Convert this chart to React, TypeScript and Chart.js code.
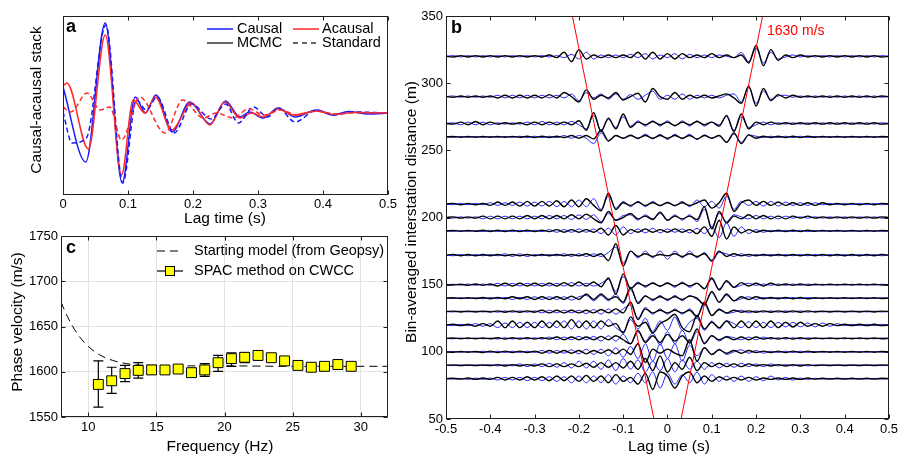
import React, { useEffect, useRef } from "react";
import { Chart, registerables } from "chart.js";

Chart.register(...registerables);

const FONT = '"Liberation Sans", Arial, Helvetica, sans-serif';

// ---------------- Panel a: causal / acausal stacks (extrema of each waveform) ----------------
const causalMcmcTimes = [0, 0.035, 0.065, 0.091, 0.111, 0.127, 0.143, 0.168, 0.195, 0.226, 0.25, 0.272, 0.287, 0.308, 0.331, 0.357, 0.39, 0.416, 0.439, 0.47, 0.5];
const causalMcmcAmps = [26, -49, 90, -70, 16, 0, 18, -19, 11, -11, 12, -4, 1, -5, 5, -4, 3, -2, 1.5, -1, 0];
const acausalMcmcTimes = [0, 0.006, 0.039, 0.065, 0.09, 0.108, 0.126, 0.142, 0.167, 0.198, 0.226, 0.249, 0.272, 0.29, 0.308, 0.331, 0.354, 0.39, 0.416, 0.45, 0.5];
const acausalMcmcAmps = [27, 30, -36, 78, -62, 13, 0, 16, -17, 10, -12, 11, -5, 0, -4, 4, -2, 2, -1.5, 0.5, 0];
const causalStdTimes = [0, 0.014, 0.036, 0.066, 0.092, 0.113, 0.128, 0.145, 0.171, 0.198, 0.228, 0.25, 0.27, 0.293, 0.315, 0.331, 0.357, 0.39, 0.416, 0.445, 0.5];
const causalStdAmps = [1, -30, -25, 88, -70, 13, 3, 16, -20, 9, -6, 9, -10, 6, -4, 5, -9, 3, -2, 1, 0];
const acausalStdTimes = [0, 0.012, 0.037, 0.057, 0.072, 0.09, 0.118, 0.157, 0.184, 0.216, 0.236, 0.262, 0.285, 0.31, 0.335, 0.36, 0.39, 0.42, 0.45, 0.5];
const acausalStdAmps = [6, 1, 20, 3, 6, -27, 16, -20, 13, -5, 0, -5, 4, -2, 3, -2, 2, -1, 0.5, 0];
const stackTicks = [0, 0.1, 0.2, 0.3, 0.4, 0.5];
const stackTickLabels = ["0", "0.1", "0.2", "0.3", "0.4", "0.5"];

// ---------------- Panel b: bin-averaged cross-correlations ----------------
const traceDistances = [320, 290, 270, 260, 210, 200, 190, 172, 150, 140, 130, 120, 110, 100, 90, 80];
const lagStart = -0.5;
const lagStep = 1 / 60;

const black320 = [0, -0.5, 0.5, -0.5, 0.5, -0.5, 0.5, -0.5, 0.5, -0.5, 0.5, -0.5, 0.5, -0.5, 1, -1, 3, -4, 5, -2, 1, -1, 1, -1, 1, -1, 3, -2, 3, -2, 2, -2, 2, -1, 1, -1, 2, -1, 1, -1, 1, -5, 8, -7, 5, -3, 1, -1, 1, -0.5, 0.5, -0.5, 0.5, -0.5, 0.5, -0.5, 0.5, -0.5, 0.5, -0.5, 0];
const black290 = [0, -0.5, 0.5, -0.5, 0.5, -0.5, 0.5, -1, 1, -1, 1, -1, 1, -1, 1.5, -1, 3, 0, -4, 5, -2, 1, -1, 3, -2.5, 0, 2.5, -4, 6, 0, -2, 3, -2, 1, -1, 1, -1, 0.5, 2, -1, -5, 8, -7, 6, -3, 1.5, -1, 1, -0.5, 0.5, -0.5, 0.5, -0.5, 0.5, -0.5, 0.5, -0.5, 0.5, -0.5, 0.5, 0];
const black270 = [0, -0.5, 1, -1, 1.5, -1, 1, -0.5, 0.5, -0.5, 0.5, -1, 1, -1, 1, -1, 1, -1, 2, -5, 8, -6, 4, -4, 7, -3, 1, -1, 1.5, -1, 1, -1.5, 1, -1, 1.5, -1, 1, -2, 6, -6, 7, -4, 1, -1, 1, -0.5, 0.5, -0.5, 0.5, -0.5, 0.5, -0.5, 0.5, -0.5, 0.5, -0.5, 0.5, -0.5, 0.5, -0.5, 0];
const black260 = [0, 0.3, -0.3, 0.3, -0.3, 0.3, -0.3, 0.3, -0.3, 0.3, -0.3, 0.5, -0.5, 0.5, -0.5, 0.5, -0.5, 1, -1, 1, -1.5, 5, -3, 1, -1, 1, -1, 1, -1, 1, -1, 1, -1, 1, -1.5, 1, -1, 1, -4, 3, -5, 1.5, -1, 0.5, -0.5, 0.5, -0.5, 0.5, -0.5, 0.5, -0.3, 0.3, -0.3, 0.3, -0.3, 0.3, -0.3, 0.3, -0.3, 0.3, 0];
const black210 = [0, 0.5, -0.5, 0.5, -0.5, 0.5, -1, 1.5, -1, 1.5, -1.5, 2, -1.5, 2, -1.5, 2.5, -2, 3, -2, 4, -1, -5, 8, -4, 1, -1, 1.5, -1, 1, -1, 1, -1, 1, -1, 1, 3, -3, 1, 8, -5.5, 1, 3, -1, 2, -1, 1.5, -1, 1, -1, 1, -1, 1, -0.5, 0.5, -0.5, 0.5, -0.5, 0.5, -0.5, 0.5, 0];
const black200 = [0, 0.5, -0.5, 0.5, -0.5, 1, -1, 1, -1, 1, -1, 1.5, -1, 1.5, -1, 1.5, -1, 2, -1, 2.5, -1, -4, 4.5, -2, 0, 3, -1, 1, -1.5, 4, -2, 1, -1, 1, -1.5, 8, -8.5, 4.5, -4, 1, -1, 2, -1, 1.5, -1, 1, -1, 1, -0.5, 1, -0.5, 0.5, -0.5, 0.5, -0.5, 0.5, -0.5, 0.5, -0.5, 0.5, 0];
const black190 = [0, 0.3, -0.3, 0.3, -0.3, 0.5, -0.5, 0.5, -0.5, 0.5, -0.5, 0.5, -0.5, 0.5, -0.5, 1, -1, 1, -1, 1, -1, 2, -3, 4, -3, 1, -1, 1.5, -1, 1, -1, 1.5, -1, 1, -2, 3, -4, 8, -6, 3, -1.5, 1, -1, 0.5, -0.5, 0.5, -0.5, 0.5, -0.5, 0.5, -0.3, 0.3, -0.3, 0.3, -0.3, 0.3, -0.3, 0.3, -0.3, 0.3, 0];
const black172 = [0, 0.5, -0.5, 0.5, -0.5, 0.5, -0.5, 0.5, -0.5, 0.5, -0.5, 0.5, -0.5, 0.5, -0.5, 0.5, -0.5, 0.5, -0.5, 1, -1, 1, -4, 8.5, -8, 3, -1, 1, -1, 0.5, -0.5, 1, -1, 1, -1, 1, -4, 3, -1, 1, -0.5, 0.5, -0.5, 0.5, -0.5, 0.5, -0.5, 0.5, -0.5, 0.5, -0.5, 0.5, -0.5, 0.5, -0.5, 0.5, -0.5, 0.5, -0.5, 0.5, 0];
const black150 = [0, -0.3, 0.3, -0.5, 0.5, -0.5, 0.5, -1, 1, -1, 1, -1, 1, -1, 1, -1, 1.5, -1, 2, -1, 2, -1.5, 5, -7, 8, -3, 1, -1, 1, -1, 1, -1, 1, -1, 1, -3, 5, -4, 3, -2, 1.5, -1, 1, -1, 1, -0.5, 0.5, -0.5, 0.5, -0.5, 0.3, -0.3, 0.3, -0.3, 0.3, -0.3, 0.3, -0.3, 0.3, -0.3, 0];
const black140 = [0, 0.3, -0.3, 0.3, -0.3, 0.5, -0.5, 0.5, -0.5, 1, -0.5, 1, -1, 1, -1, 1, -1, 1.5, -1, 3, -1, 3, -1, 1, -3, 8, -4, 1.5, -1, 1, -1, 1, -1, 1.5, 0, -5, 5, -3, 3, -2, 1, -1, 1, -0.5, 0.5, -0.5, 0.5, -0.5, 0.5, -0.5, 0.3, -0.3, 0.3, -0.3, 0.3, -0.3, 0.3, -0.3, 0.3, -0.3, 0];
const black130 = [0, 0.3, -0.3, 0.3, -0.3, 0.3, -0.3, 0.5, -0.5, 0.5, -0.5, 0.5, -0.5, 1, -1, 1, -1, 1, -1, 1, -1, 1.5, -1, 2, -1, 7, -6, 2, -1, 1, -1, 1, -1, 1, -4, 7, -3, 1.5, -1, 1, -0.5, 0.5, -0.5, 0.5, -0.5, 0.5, -0.5, 0.5, -0.5, 0.5, -0.3, 0.3, -0.3, 0.3, -0.3, 0.3, -0.3, 0.3, -0.3, 0.3, 0];
const black120 = [0, 0.5, -0.5, 0.5, -1, 1, -1, 3, -2, 3, -2, 2, -2, 3, -2, 3, -2, 4, -2, 3, -2, 3, -1, 1, -6, 6, -1, 2, -6, 1, 4, 8, -2, -5, 7, -3, 2, -2, 3, -2, 3, -2, 3, -2, 3, -2, 2, -1.5, 2, -1, 1, -1, 1, -0.5, 0.5, -0.5, 0.5, -0.5, 0.5, -0.5, 0];
const black110 = [0, 0.3, -0.3, 0.3, -0.3, 0.3, -0.3, 0.5, -0.5, 0.5, -0.5, 0.5, -0.5, 0.5, -0.5, 1, -1, 1, -1, 1, -1, 1.5, -1, 2, -1, -4, 6, -3, 2, -3, 3, -2, 2, -3, 7, -4, 2, -1, 1, -1, 1, -1, 1, -0.5, 0.5, -0.5, 0.5, -0.5, 0.5, -0.5, 0.3, -0.3, 0.3, -0.3, 0.3, -0.3, 0.3, -0.3, 0.3, -0.3, 0];
const black100 = [0, -0.3, 0.3, -0.3, 0.3, -0.5, 0.5, -0.5, 0.5, -0.5, 0.5, -0.5, 0.5, -1, 1, -1, 1, -1, 1, -1.5, 1, -1, 1.5, -1.5, 2, -2, 6, -8, 2, -1, 2, -1, -3, 9, -7, 3, -2, 1.5, -1, 1, -1, 1, -0.5, 0.5, -0.5, 0.5, -0.5, 0.5, -0.5, 0.5, -0.3, 0.3, -0.3, 0.3, -0.3, 0.3, -0.3, 0.3, -0.3, 0.3, 0];
const black90 = [0, 0.3, -0.3, 0.3, -0.3, 0.3, -0.3, 0.5, -0.5, 0.5, -0.5, 0.5, -0.5, 1, -1, 1, -1, 1, -1, 1.5, -1.5, 2, -1.5, 2, -2, 3, -3, 5, -4, 7, -5, 2, -3, 6, -4, 2, -1, 1.5, -1, 1, -1, 1, -0.5, 0.5, -0.5, 0.5, -0.5, 0.5, -0.5, 0.5, -0.3, 0.3, -0.3, 0.3, -0.3, 0.3, -0.3, 0.3, -0.3, 0.3, 0];
const black80 = [0, 0.3, -0.3, 0.5, -0.5, 0.5, -0.5, 1, -1, 1, -1, 1.5, -1, 1.5, -1.5, 2, -1.5, 2, -2, 2.5, -2, 2, -3, 3, -2, 1, -4, 4, -8, 5, 2, -7, 2, 5, -3, 2, -2, 1.5, -1, 1, -1, 1, -1, 0.5, -0.5, 0.5, -0.5, 0.5, -0.5, 0.5, -0.3, 0.3, -0.3, 0.3, -0.3, 0.3, -0.3, 0.3, -0.3, 0.3, 0];

const blue320 = [0, 0.5, -0.5, 0.5, -0.5, 0.5, -0.5, 0.5, -0.5, 0.5, -0.5, 0.5, -0.5, 0.5, -0.5, 0.5, -1, 1.5, -2, 3, -2, 1, -1, 1, -1, 1.5, -1, 2, -2, 1, -1, 2, -2, 1.5, -1, 1, -1, 1, 0, -1, 3, -4, 6, -5, 3, -2, -0.5, 1, -0.5, 0.5, -0.5, 0.5, -0.5, 0.5, -0.5, 0.5, -0.5, 0.5, -0.5, 0.5, 0];
const blue290 = [0, 0.5, -0.5, 0.5, -0.5, 0.5, -0.5, 1, -1, 1, -1, 1, -1, 1, -1, 1, -1, 2, -3, 3, -1, 2, -2, 2, -2, 1.5, -2, 1, 4, -2, 1, -2, 2, -2, 1, -1, 1, -1, 1, 2, -4, 7, -5, 4, -2, 0.5, 1, -0.5, 0.5, -0.5, 0.5, -0.5, 0.5, -0.5, 0.5, -0.5, 0.5, -0.5, 0.5, -0.5, 0];
const blue270 = [0, 0.5, -1, 1, -1, 1, -1, 0.5, -0.5, 0.5, -0.5, 1, -1, 1.5, -1, 1, -1, 1.5, -1, -4, 6, -5, 3, -3, 5, -2, 2, -2, 2, -2, 2, -2, 2, -2, 2, -2, 1, -1, 5, -5, 5, -3, -1, 1, -1, 0.5, -0.5, 0.5, -0.5, 0.5, -0.5, 0.5, -0.5, 0.5, -0.5, 0.5, -0.5, 0.5, -0.5, 0.5, 0];
const blue260 = [0, -0.3, 0.3, -0.3, 0.3, -0.3, 0.3, -0.3, 0.3, -0.3, 0.5, -0.5, 0.5, -0.5, 0.5, -0.5, 1, -1, 1, -1, -5, 3, -3, 1, -1, 1.5, -1.5, 2, -1.5, 2, -2, 2, -1.5, 2, -2, 1.5, -1, 1, -4, 2, -4, 1.5, 0.5, -0.5, 0.5, -0.5, 0.5, -0.5, 0.5, -0.5, 0.3, -0.3, 0.3, -0.3, 0.3, -0.3, 0.3, -0.3, 0.3, -0.3, 0];
const blue210 = [0, -0.5, 0.5, -0.5, 0.5, -0.5, 1, -1, 1, -1, 1.5, -1.5, 1.5, -1.5, 2, -2, 2, -2, 3, -2, 4, -4, 6, -3, 2, -2, 2, -2, 2, -1.5, 1.5, -1.5, 2, -2, 3, -2, 2, -3, 6, -4, 2, -1, 2, -1.5, 2, -1.5, 1.5, -1, 1, -1, 1, -0.5, 0.5, -0.5, 0.5, -0.5, 0.5, -0.5, 0.5, -0.5, 0];
const blue200 = [0, -0.5, 0.5, -0.5, 0.5, -1, 1, -1, 1, -1, 1, -1, 1, -1, 1.5, -1, 1.5, -1.5, 2, -1.5, 2, -3, 3, -2, 1.5, 2, -2, 2, -1, 3, -2, 2, -2, 2, -3, 6, -7, 3, -3, 2, 0.5, -1, 1.5, -1, 1, -1, 1, -0.5, 0.5, -0.5, 0.5, -0.5, 0.5, -0.5, 0.5, -0.5, 0.5, -0.5, 0.5, -0.5, 0];
const blue190 = [0, -0.3, 0.3, -0.3, 0.3, -0.5, 0.5, -0.5, 0.5, -0.5, 0.5, -0.5, 0.5, -0.5, 1, -1, 1, -1, 1.5, -1, 1.5, -2, 2, -3, 3, -2, 1.5, -1.5, 2, -1.5, 1.5, -1, 1.5, -1.5, 2, -2, 3, -5, 6, -4, 3, -2, 1, -1, 0.5, -0.5, 0.5, -0.5, 0.5, -0.5, 0.3, -0.3, 0.3, -0.3, 0.3, -0.3, 0.3, -0.3, 0.3, -0.3, 0];
const blue172 = [0, -0.5, 0.5, -0.5, 0.5, -0.5, 0.5, -0.5, 1, -1, 1, -1, 0.5, -0.5, 0.5, -0.5, 1, -1, 1, -1, 1, -1, 2, 6, -6, 3, -2, 3, -2, 3, -3, 3, -2, 3, -2, 2, -5, 2, 1, -1, 1, -1, 0.5, -0.5, 0.5, -0.5, 0.5, -0.5, 0.5, -0.5, 0.5, -0.5, 0.5, -0.5, 0.5, -0.5, 0.5, -0.5, 0.5, -0.5, 0];
const blue150 = [0, 0.3, -0.3, 0.5, -0.5, 0.5, -0.5, 1, -1, 1, -1, 1, -1, 1, -1, 1, -1, 1.5, -1, 1, -1, 1, 4, -5, 6, -3, 2, -2, 1.5, -1.5, 1.5, -2, 2, -2, 1, -3, 4, -3, 2, -2, -0.5, 1, -0.5, 0.5, -0.5, 0.5, -0.5, 0.5, -0.5, 0.5, -0.3, 0.3, -0.3, 0.3, -0.3, 0.3, -0.3, 0.3, -0.3, 0.3, 0];
const blue140 = [0, -0.3, 0.3, -0.3, 0.3, -0.5, 0.5, -0.5, 0.5, -1, 0.5, -1, 1, -1, 1, -1, 1, -1.5, 1, 2, -2, 2, -2, 3, -4, 6, -3, 2, -2, 2, -2, 2, -2, 2, -1, -4, 4, -3, 2, -2, -0.5, 1, -1, 0.5, -0.5, 0.5, -0.5, 0.5, -0.5, 0.5, -0.3, 0.3, -0.3, 0.3, -0.3, 0.3, -0.3, 0.3, -0.3, 0.3, 0];
const blue130 = [0, -0.3, 0.3, -0.3, 0.3, -0.3, 0.3, -0.5, 0.5, -0.5, 0.5, -0.5, 0.5, -1, 1, -1, 1, -1, 1, -1.5, 1.5, -2, 2, -2, 2, 5, -5, 3, -2, 2, -2, 2, -2, 2, -3, 5, -3, 2, -1.5, -0.5, 1, -1, 0.5, -0.5, 0.5, -0.5, 0.5, -0.5, 0.5, -0.5, 0.3, -0.3, 0.3, -0.3, 0.3, -0.3, 0.3, -0.3, 0.3, -0.3, 0];
const blue120 = [0, -0.5, 0.5, -0.5, 1, -1, 1, -2, 1.5, -2, 2, -2, 2, -2, 2, -2, 3, -3, 3, -3, 3, -3, 4, -2, -5, 4, -3, 5, -5, 3, -4, 6, -4, 2, 5, -4, 3, -3, 3, 1, -2, 2.5, -2, 2, -2, 2, -1.5, 2, -1.5, 1.5, -1.5, 1.5, -1, 1, -0.5, 0.5, -0.5, 0.5, -0.5, 0.5, 0];
const blue110 = [0, -0.3, 0.3, -0.3, 0.3, -0.3, 0.3, -0.5, 0.5, -0.5, 0.5, -0.5, 0.5, -0.5, 1, -1, 1, -1, 1.5, -1, 1.5, -2, 2, -2, 3, -4, 5, -2, 4, -5, 5, -4, 6, -4, 5, -3, 2, -2, 1.5, 0.5, -1, 1, -1, 1, -0.5, 0.5, -0.5, 0.5, -0.5, 0.5, -0.3, 0.3, -0.3, 0.3, -0.3, 0.3, -0.3, 0.3, -0.3, 0.3, 0];
const blue100 = [0, 0.3, -0.3, 0.3, -0.3, 0.5, -0.5, 0.5, -0.5, 0.5, -0.5, 0.5, -0.5, 1, -1, 1, -1, 1.5, -1.5, 2, -2, 2, -3, 3, -4, 4, -5, 6, -7, 6, -5, 6, -7, 5, -3, 3, -2, 2, -2, 0, 1.5, -1, 1, -1, 0.5, -0.5, 0.5, -0.5, 0.5, -0.5, 0.3, -0.3, 0.3, -0.3, 0.3, -0.3, 0.3, -0.3, 0.3, -0.3, 0];
const blue90 = [0, -0.3, 0.3, -0.3, 0.3, -0.3, 0.5, -0.5, 0.5, -0.5, 1, -1, 1, -1, 1.5, -1.5, 2, -2, 3, -2, 3, -3, 4, -4, 5, -3, 4, -5, 3, -4, 5, -5, 4, -3, 3, -3, 2, -2, 1.5, -1.5, 1.5, -1, 1, -1, 1, -0.5, 0.5, -0.5, 0.5, -0.5, 0.3, -0.3, 0.3, -0.3, 0.3, -0.3, 0.3, -0.3, 0.3, -0.3, 0];
const blue80 = [0, -0.3, 0.3, -0.5, 0.5, -0.5, 0.5, -1, 1, -1, 1, -1.5, 1, -1.5, 1.5, -2, 1.5, -3, 2, -3, 2, -3, 3, -4, 2, -3, 4, -3, 5, -7, 4, -4, 3, -3, 5, -4, 3, -2, 2, -2, 2, -2, 1.5, -1.5, 2, -1, 1, -1, 0.5, -0.5, 0.3, -0.3, 0.3, -0.3, 0.3, -0.3, 0.3, -0.3, 0.3, -0.3, 0];

const blackTraces = [black320, black290, black270, black260, black210, black200, black190, black172, black150, black140, black130, black120, black110, black100, black90, black80];
const blueTraces = [blue320, blue290, blue270, blue260, blue210, blue200, blue190, blue172, blue150, blue140, blue130, blue120, blue110, blue100, blue90, blue80];

const moveoutVelocity = 1630; // m/s
const moveoutDistances = [350, 50];
const lagTicks = [-0.5, -0.4, -0.3, -0.2, -0.1, 0, 0.1, 0.2, 0.3, 0.4, 0.5];
const lagTickLabels = ["-0.5", "-0.4", "-0.3", "-0.2", "-0.1", "0", "0.1", "0.2", "0.3", "0.4", "0.5"];
const distanceTicks = [50, 100, 150, 200, 250, 300, 350];

// ---------------- Panel c: phase velocity ----------------
const spacFreqs = [10.74, 11.72, 12.7, 13.67, 14.65, 15.63, 16.6, 17.58, 18.55, 19.53, 20.51, 21.48, 22.46, 23.44, 24.41, 25.39, 26.37, 27.34, 28.32, 29.3];
const spacVelocity = [1586, 1590, 1598, 1601.5, 1602, 1602, 1603, 1599, 1602, 1610, 1614.5, 1616, 1618, 1615.5, 1612, 1607, 1605, 1606, 1608, 1606];
const spacLow = [1561, 1576, 1589, 1593, 1597, 1598, 1600, 1596, 1595, 1600.5, 1606, 1610, 1613, 1612, 1608, 1604, 1602, 1603, 1605, 1603];
const spacHigh = [1612, 1605, 1607, 1610, 1607, 1606, 1606, 1602, 1609, 1618, 1621, 1621, 1623, 1619, 1616, 1610, 1608, 1609, 1611, 1609];
const modelFreqs = [8, 8.5, 9.2, 10, 10.8, 11.8, 12.8, 14.2, 17, 20, 25, 32];
const modelVelocity = [1677, 1660, 1642, 1628, 1619, 1612.5, 1609, 1607, 1606.5, 1606.5, 1606, 1606];
const freqTicks = [10, 15, 20, 25, 30];
const velocityTicks = [1550, 1600, 1650, 1700, 1750];

// ---------------- helpers ----------------
const xy = (xs: number[], ys: number[]) => xs.map((x, i) => ({ x, y: ys[i] }));

type TextSpec = { text: string; x: number; y: number; font: string; color?: string; align?: CanvasTextAlign; baseline?: CanvasTextBaseline; rotate?: number };
type LegendSpec = { x1: number; x2: number; y: number; color: string; dash?: number[]; width?: number; marker?: boolean };

function makeDecor(spec: { xTicks: boolean; yTicks: boolean; texts: TextSpec[]; legend: LegendSpec[] }) {
  return {
    id: "decor",
    afterDraw(chart: any) {
      const ctx: CanvasRenderingContext2D = chart.ctx;
      const a = chart.chartArea;
      const L = Math.round(a.left) + 0.5;
      const R = Math.round(a.right) - 0.5;
      const T = Math.round(a.top) + 0.5;
      const B = Math.round(a.bottom) - 0.5;
      ctx.save();
      ctx.setLineDash([]);
      ctx.strokeStyle = "#1e1e1e";
      ctx.lineWidth = 1;
      ctx.strokeRect(L, T, R - L, B - T);
      ctx.beginPath();
      if (spec.xTicks) {
        const xs = chart.scales.x;
        for (const t of xs.ticks) {
          const px = Math.round(xs.getPixelForValue(t.value)) + 0.5;
          ctx.moveTo(px, B); ctx.lineTo(px, B - 4);
          ctx.moveTo(px, T); ctx.lineTo(px, T + 4);
        }
      }
      if (spec.yTicks) {
        const ys = chart.scales.y;
        for (const t of ys.ticks) {
          const py = Math.round(ys.getPixelForValue(t.value)) + 0.5;
          ctx.moveTo(L, py); ctx.lineTo(L + 4, py);
          ctx.moveTo(R, py); ctx.lineTo(R - 4, py);
        }
      }
      ctx.stroke();
      for (const l of spec.legend) {
        ctx.save();
        ctx.strokeStyle = l.color;
        ctx.lineWidth = l.width ?? 1.5;
        ctx.setLineDash(l.dash ?? []);
        ctx.beginPath();
        ctx.moveTo(l.x1, l.y); ctx.lineTo(l.x2, l.y);
        ctx.stroke();
        if (l.marker) {
          ctx.setLineDash([]);
          ctx.fillStyle = "#ffff00";
          ctx.strokeStyle = "#000";
          ctx.lineWidth = 1;
          const c = (l.x1 + l.x2) / 2;
          ctx.fillRect(c - 5, l.y - 5, 10, 10);
          ctx.strokeRect(c - 5 + 0.5, l.y - 5 + 0.5, 9, 9);
        }
        ctx.restore();
      }
      for (const t of spec.texts) {
        ctx.save();
        ctx.font = t.font;
        ctx.fillStyle = t.color ?? "#000";
        ctx.textAlign = t.align ?? "center";
        ctx.textBaseline = t.baseline ?? "middle";
        ctx.translate(t.x, t.y);
        if (t.rotate) ctx.rotate(t.rotate);
        ctx.fillText(t.text, 0, 0);
        ctx.restore();
      }
      ctx.restore();
    },
  };
}

const tickFont = { family: FONT, size: 13 };
const titleFont = `15.5px ${FONT}`;
const legendFont = `14.5px ${FONT}`;
const panelFont = `bold 18px ${FONT}`;

function linearAxis(opts: { min: number; max: number; ticks: number[]; labels?: string[]; size: number; horizontal: boolean; showLabels: boolean; grid?: boolean; padding: number }) {
  return {
    type: "linear",
    min: opts.min,
    max: opts.max,
    afterBuildTicks: (s: any) => {
      s.ticks = opts.ticks.map((v) => ({ value: v }));
    },
    afterFit: (s: any) => {
      if (opts.horizontal) s.height = opts.size;
      else s.width = opts.size;
    },
    ticks: {
      display: opts.showLabels,
      font: tickFont,
      color: "#000",
      padding: opts.padding,
      autoSkip: false,
      maxRotation: 0,
      callback: (_v: any, i: number) => (opts.labels ? opts.labels[i] : String(opts.ticks[i])),
    },
    grid: opts.grid
      ? { display: true, color: "#e2e2e2", lineWidth: 1, drawTicks: false }
      : { display: false, drawTicks: false },
    border: { display: false },
  };
}

const baseOptions = {
  animation: false,
  responsive: false,
  maintainAspectRatio: false,
  devicePixelRatio: 1,
  events: [],
  plugins: { legend: { display: false }, tooltip: { enabled: false } },
};

function configA(): any {
  const blue = "#1a1aff";
  const red = "#ff2a2a";
  const ds = (times: number[], amps: number[], color: string, dash: number[]) => ({
    data: xy(times, amps),
    borderColor: color,
    borderWidth: 1.5,
    borderDash: dash,
    pointRadius: 0,
    cubicInterpolationMode: "monotone",
    fill: false,
  });
  return {
    type: "line",
    data: {
      datasets: [
        ds(acausalStdTimes, acausalStdAmps, red, [5, 3]),
        ds(causalStdTimes, causalStdAmps, blue, [5, 3]),
        ds(acausalMcmcTimes, acausalMcmcAmps, red, []),
        ds(causalMcmcTimes, causalMcmcAmps, blue, []),
      ],
    },
    options: {
      ...baseOptions,
      layout: { padding: { left: 0, right: 12, top: 16, bottom: 0 } },
      scales: {
        x: linearAxis({ min: 0, max: 0.5, ticks: stackTicks, labels: stackTickLabels, size: 35, horizontal: true, showLabels: true, padding: 2 }),
        y: linearAxis({ min: -82, max: 97, ticks: [], size: 63, horizontal: false, showLabels: false, padding: 3 }),
      },
    },
    plugins: [
      makeDecor({
        xTicks: true,
        yTicks: false,
        texts: [
          { text: "Lag time (s)", x: 225, y: 219, font: titleFont },
          { text: "Causal-acausal stack", x: 37, y: 100, font: titleFont, rotate: -Math.PI / 2 },
          { text: "a", x: 66, y: 32, font: panelFont, align: "left", baseline: "alphabetic" },
          { text: "Causal", x: 237, y: 29, font: legendFont, align: "left" },
          { text: "Acausal", x: 322, y: 29, font: legendFont, align: "left" },
          { text: "MCMC", x: 237, y: 43, font: legendFont, align: "left" },
          { text: "Standard", x: 322, y: 43, font: legendFont, align: "left" },
        ],
        legend: [
          { x1: 207, x2: 233, y: 29, color: blue },
          { x1: 293, x2: 319, y: 29, color: red },
          { x1: 207, x2: 233, y: 43, color: "#333" },
          { x1: 293, x2: 319, y: 43, color: "#333", dash: [5, 4] },
        ],
      }),
    ],
  };
}

function configB(): any {
  const times = blackTraces[0].map((_, i) => lagStart + i * lagStep);
  const datasets: any[] = [];
  traceDistances.forEach((d, k) => {
    datasets.push({
      data: times.map((t, i) => ({ x: t, y: d + blueTraces[k][i] })),
      borderColor: "#2424ff",
      borderWidth: 1,
      pointRadius: 0,
      cubicInterpolationMode: "monotone",
      order: 3,
    });
    datasets.push({
      data: times.map((t, i) => ({ x: t, y: d + blackTraces[k][i] })),
      borderColor: "#000",
      borderWidth: 1.4,
      pointRadius: 0,
      cubicInterpolationMode: "monotone",
      order: 2,
    });
  });
  datasets.push({
    data: moveoutDistances.map((d) => ({ x: -d / moveoutVelocity, y: d })),
    borderColor: "#ff0000",
    borderWidth: 1,
    pointRadius: 0,
    order: 1,
  });
  datasets.push({
    data: moveoutDistances.map((d) => ({ x: d / moveoutVelocity, y: d })),
    borderColor: "#ff0000",
    borderWidth: 1,
    pointRadius: 0,
    order: 1,
  });
  return {
    type: "line",
    data: { datasets },
    options: {
      ...baseOptions,
      layout: { padding: { left: 0, right: 9, top: 16, bottom: 0 } },
      scales: {
        x: linearAxis({ min: -0.5, max: 0.5, ticks: lagTicks, labels: lagTickLabels, size: 35, horizontal: true, showLabels: true, padding: 3 }),
        y: linearAxis({ min: 50, max: 350, ticks: distanceTicks, size: 46, horizontal: false, showLabels: true, padding: 3 }),
      },
    },
    plugins: [
      makeDecor({
        xTicks: true,
        yTicks: true,
        texts: [
          { text: "Lag time (s)", x: 269, y: 447, font: titleFont },
          { text: "Bin-averaged interstation distance (m)", x: 12, y: 212, font: titleFont, rotate: -Math.PI / 2 },
          { text: "b", x: 51, y: 33, font: panelFont, align: "left", baseline: "alphabetic" },
          { text: "1630 m/s", x: 367, y: 35, font: `14px ${FONT}`, color: "#ff0000", align: "left", baseline: "alphabetic" },
        ],
        legend: [],
      }),
    ],
  };
}

function configC(): any {
  const errorBars = {
    id: "errorBars",
    beforeDatasetDraw(chart: any, args: any) {
      if (args.index !== 1) return;
      const xs = chart.scales.x;
      const ys = chart.scales.y;
      const ctx: CanvasRenderingContext2D = chart.ctx;
      ctx.save();
      ctx.strokeStyle = "#000";
      ctx.lineWidth = 1.2;
      ctx.setLineDash([]);
      ctx.beginPath();
      spacFreqs.forEach((f, i) => {
        const px = xs.getPixelForValue(f);
        const lo = ys.getPixelForValue(spacLow[i]);
        const hi = ys.getPixelForValue(spacHigh[i]);
        ctx.moveTo(px, lo); ctx.lineTo(px, hi);
        ctx.moveTo(px - 5, lo); ctx.lineTo(px + 5, lo);
        ctx.moveTo(px - 5, hi); ctx.lineTo(px + 5, hi);
      });
      ctx.stroke();
      ctx.restore();
    },
  };
  return {
    type: "line",
    data: {
      datasets: [
        {
          data: xy(modelFreqs, modelVelocity),
          borderColor: "#000",
          borderWidth: 1,
          borderDash: [8, 5],
          pointRadius: 0,
          cubicInterpolationMode: "monotone",
          order: 2,
        },
        {
          data: xy(spacFreqs, spacVelocity),
          showLine: false,
          pointStyle: "rect",
          pointRadius: 7,
          pointBackgroundColor: "#ffff00",
          pointBorderColor: "#000",
          pointBorderWidth: 1,
          order: 1,
        },
      ],
    },
    options: {
      ...baseOptions,
      layout: { padding: { left: 0, right: 12, top: 12, bottom: 0 } },
      scales: {
        x: linearAxis({ min: 8, max: 32, ticks: freqTicks, size: 37, horizontal: true, showLabels: true, grid: true, padding: 3 }),
        y: linearAxis({ min: 1550, max: 1750, ticks: velocityTicks, size: 61, horizontal: false, showLabels: true, grid: true, padding: 3 }),
      },
    },
    plugins: [
      errorBars,
      makeDecor({
        xTicks: true,
        yTicks: true,
        texts: [
          { text: "Frequency (Hz)", x: 220, y: 223, font: titleFont },
          { text: "Phase velocity (m/s)", x: 18, y: 98, font: titleFont, rotate: -Math.PI / 2 },
          { text: "c", x: 66, y: 29, font: panelFont, align: "left", baseline: "alphabetic" },
          { text: "Starting model (from Geopsy)", x: 194, y: 27, font: legendFont, align: "left" },
          { text: "SPAC method on CWCC", x: 194, y: 47, font: legendFont, align: "left" },
        ],
        legend: [
          { x1: 157, x2: 183, y: 27, color: "#000", dash: [8, 5], width: 1.2 },
          { x1: 157, x2: 183, y: 47, color: "#000", width: 1.2, marker: true },
        ],
      }),
    ],
  };
}

export default function App() {
  const aRef = useRef<HTMLCanvasElement>(null);
  const bRef = useRef<HTMLCanvasElement>(null);
  const cRef = useRef<HTMLCanvasElement>(null);

  useEffect(() => {
    Chart.defaults.font.family = FONT;
    const charts = [
      new Chart(aRef.current as HTMLCanvasElement, configA()),
      new Chart(bRef.current as HTMLCanvasElement, configB()),
      new Chart(cRef.current as HTMLCanvasElement, configC()),
    ];
    return () => charts.forEach((c) => c.destroy());
  }, []);

  return (
    <div style={{ position: "absolute", left: 0, top: 0, width: 901, height: 454, background: "#fff", overflow: "hidden" }}>
      <canvas ref={aRef} width={400} height={230} style={{ position: "absolute", left: 0, top: 0, width: 400, height: 230 }} />
      <canvas ref={cRef} width={400} height={230} style={{ position: "absolute", left: 0, top: 224, width: 400, height: 230 }} />
      <canvas ref={bRef} width={501} height={454} style={{ position: "absolute", left: 400, top: 0, width: 501, height: 454 }} />
    </div>
  );
}
